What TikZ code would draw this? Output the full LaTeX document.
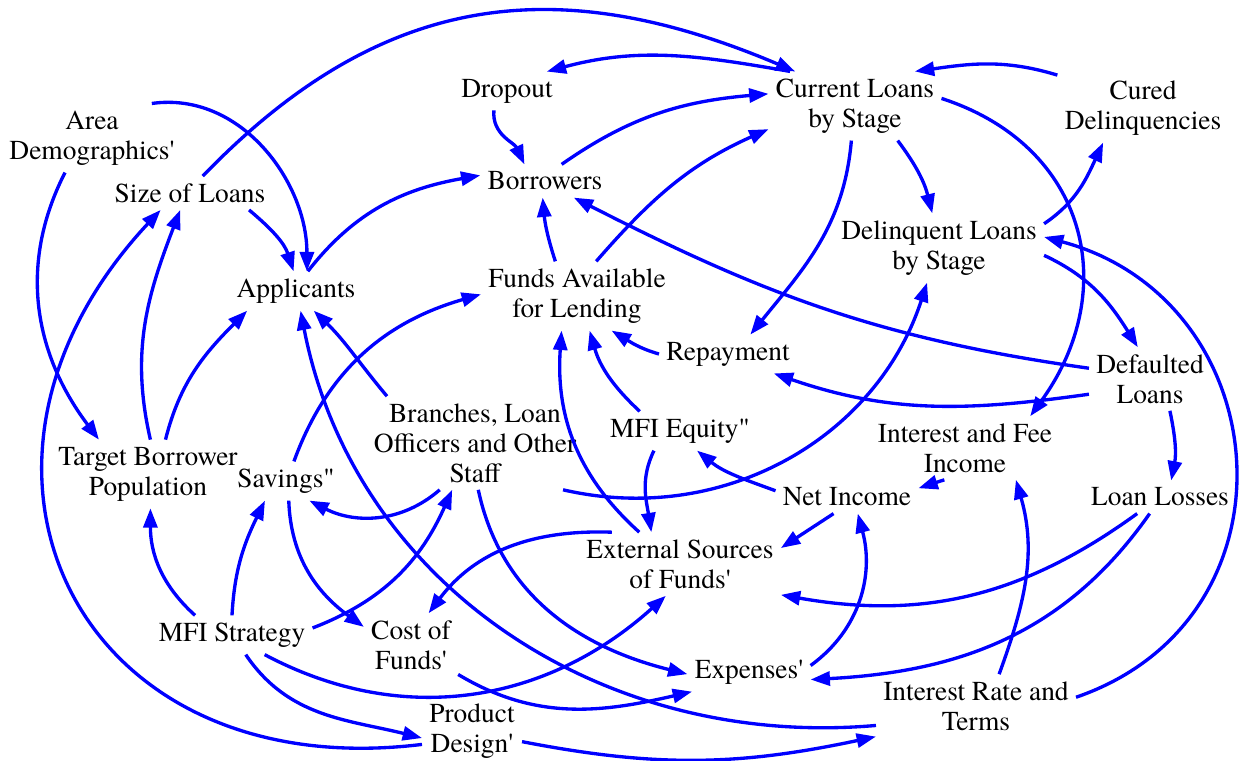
\documentclass[tikz,border=0pt]{standalone}
\usepackage{fontspec}
\setmainfont{texgyretermes}[Extension=.otf, UprightFont=*-regular, BoldFont=*-bold, ItalicFont=*-italic, BoldItalicFont=*-bolditalic]
\newcommand\sq{\textquotesingle}
\newcommand\dq{\textquotedbl}
\usetikzlibrary{arrows.meta}

\begin{document}
\begin{tikzpicture}[x=0.02cm, y=-0.02cm,
  every node/.style={align=center, inner sep=4pt, font=\fontsize{15.6}{17}\selectfont},
  cause/.style={-{Triangle[length=11pt,width=8pt]}, draw=blue, line width=1.9pt}]
\useasboundingbox (0,0) rectangle (1243,760);
%\draw (0,0) rectangle (1243,760);

\draw  (92,138) node (area) {Area\\Demographics\sq};
\draw  (190,193) node (sizel) {Size of Loans};
\draw  (296,291) node (appl) {Applicants};
\draw  (507,91) node (drop) {Dropout};
\draw  (545,181) node (borr) {Borrowers};
\draw  (577,296) node (funds) {Funds Available\\for Lending};
\draw  (855,106) node (cur) {Current Loans\\by Stage};
\draw  (1143,108) node (cured) {Cured\\Delinquencies};
\draw  (939,248) node (delq) {Delinquent Loans\\by Stage};
\draw  (728,354) node (repay) {Repayment};
\draw  (1150,379) node (deflt) {Defaulted\\Loans};
\draw  (475,443) node (staff) {Branches, Loan\\Officers and Other\\Staff};
\draw  (680,431) node (equity) {MFI Equity\dq};
\draw  (965,448) node (intfee) {Interest and Fee\\Income};
\draw  (148,474) node (tbp) {Target Borrower\\Population};
\draw  (286,481) node (sav) {Savings\dq};
\draw  (847,497) node (netinc) {Net Income};
\draw  (1160,497) node (losses) {Loan Losses};
\draw  (680,564) node (ext) {External Sources\\of Funds\sq};
\draw  (232,635) node (strat) {MFI Strategy};
\draw  (411,645) node (cost) {Cost of\\Funds\sq};
\draw  (749,672) node (exp) {Expenses\sq};
\draw  (976,706) node (irt) {Interest Rate and\\Terms};
\draw  (472,731) node (prod) {Product\\Design\sq};

\draw[cause] (cur.152) to[out=170,in=15] (drop.26);
\draw[cause] (sizel.53) to[out=46,in=157,looseness=1.1] (cur.150);
\draw[cause] (drop.236) to[out=265,in=115] (borr.141);
\draw[cause] (borr.45) to[out=35,in=185] (cur.172);
\draw[cause] (funds.61) to[out=49,in=204] (cur.195);
\draw[cause] (funds.122) to[out=108,in=-85] (borr.262);
\draw[cause] (deflt.170) to[out=172,in=-27] (borr.-30);
\draw[cause] (appl.59) to[out=52,in=190] (borr.175);
\draw[cause] (sizel.-16) to[out=-40,in=108] (appl.97);
\draw[cause] (area.30) to[out=8,in=90] (appl.61);
\draw[cause] (area.232) to[out=243,in=127] (tbp.145);
\draw[cause] (prod.195) to[out=187,in=227,looseness=1.5] (sizel.210);
\draw[cause] (tbp.86) to[out=103,in=249] (sizel.240);
\draw[cause] (tbp.63) to[out=76,in=225] (appl.202);
\draw[cause] (strat.152) to[out=138,in=-90] (tbp.-86);
\draw[cause] (strat.90) to[out=87,in=244] (sav.223);
\draw[cause] (strat.5) to[out=21,in=246] (staff.244);
\draw[cause] (strat.-55) to[out=-56,in=166] (prod.188);
\draw[cause] (strat.-31) to[out=-28,in=222] (ext.246);
\draw[cause] (sav.68) to[out=70,in=196] (funds.179);
\draw[cause] (sav.-82) to[out=-88,in=144] (cost.159);
\draw[cause] (staff.233) to[out=221,in=-27] (sav.-40);
\draw[cause] (staff.152) to[out=130,in=-44] (appl.-48);
\draw[cause] (prod.-12) to[out=-11,in=192] (irt.197);
\draw[cause] (irt.191) to[out=185,in=281] (appl.283);
\draw[cause] (cost.-32) to[out=-31,in=193] (exp.199);
\draw[cause] (staff.-86) to[out=-78,in=166] (exp.182);
\draw[cause] (ext.155) to[out=178,in=53] (cost.61);
\draw[cause] (ext.142) to[out=138,in=266] (funds.246);
\draw[cause] (equity.154) to[out=137,in=-74] (funds.-70);
\draw[cause] (equity.217) to[out=-116,in=99] (ext.132);
\draw[cause] (repay.180) to[out=164,in=-31] (funds.-45);
\draw[cause] (cur.264) to[out=-95,in=51] (repay.41);
\draw[cause] (deflt.194) to[out=188,in=-19] (repay.-23);
\draw[cause] (cur.5) to[out=-18,in=54,looseness=1.2] (intfee.26);
\draw[cause] (netinc.175) to[out=160,in=-39] (equity.-49);
\draw[cause] (intfee.237) -- (netinc.7);
\draw[cause] (netinc.231) -- (ext.9);
\draw[cause] (exp.6) to[out=36,in=-75] (netinc.-57);
\draw[cause] (irt.54) to[out=70,in=-74] (intfee.-32);
\draw[cause] (irt.5) to[out=19,in=-15,looseness=1.35] (delq.6);
\draw[cause] (losses.216) to[out=-144,in=-10] (ext.-17);
\draw[cause] (losses.238) to[out=-125,in=3] (exp.-7);
\draw[cause] (deflt.-58) to[out=-78,in=79] (losses.56);
\draw[cause] (delq.-4) to[out=-25,in=122] (deflt.111);
\draw[cause] (delq.13) to[out=34,in=245] (cured.221);
\draw[cause] (cured.159) to[out=163,in=8] (cur.30);
\draw[cause] (cur.-39) to[out=-53,in=104] (delq.101);
\draw[cause] (staff.-28) to[out=-13,in=-108] (delq.251);
\end{tikzpicture}
\end{document}
